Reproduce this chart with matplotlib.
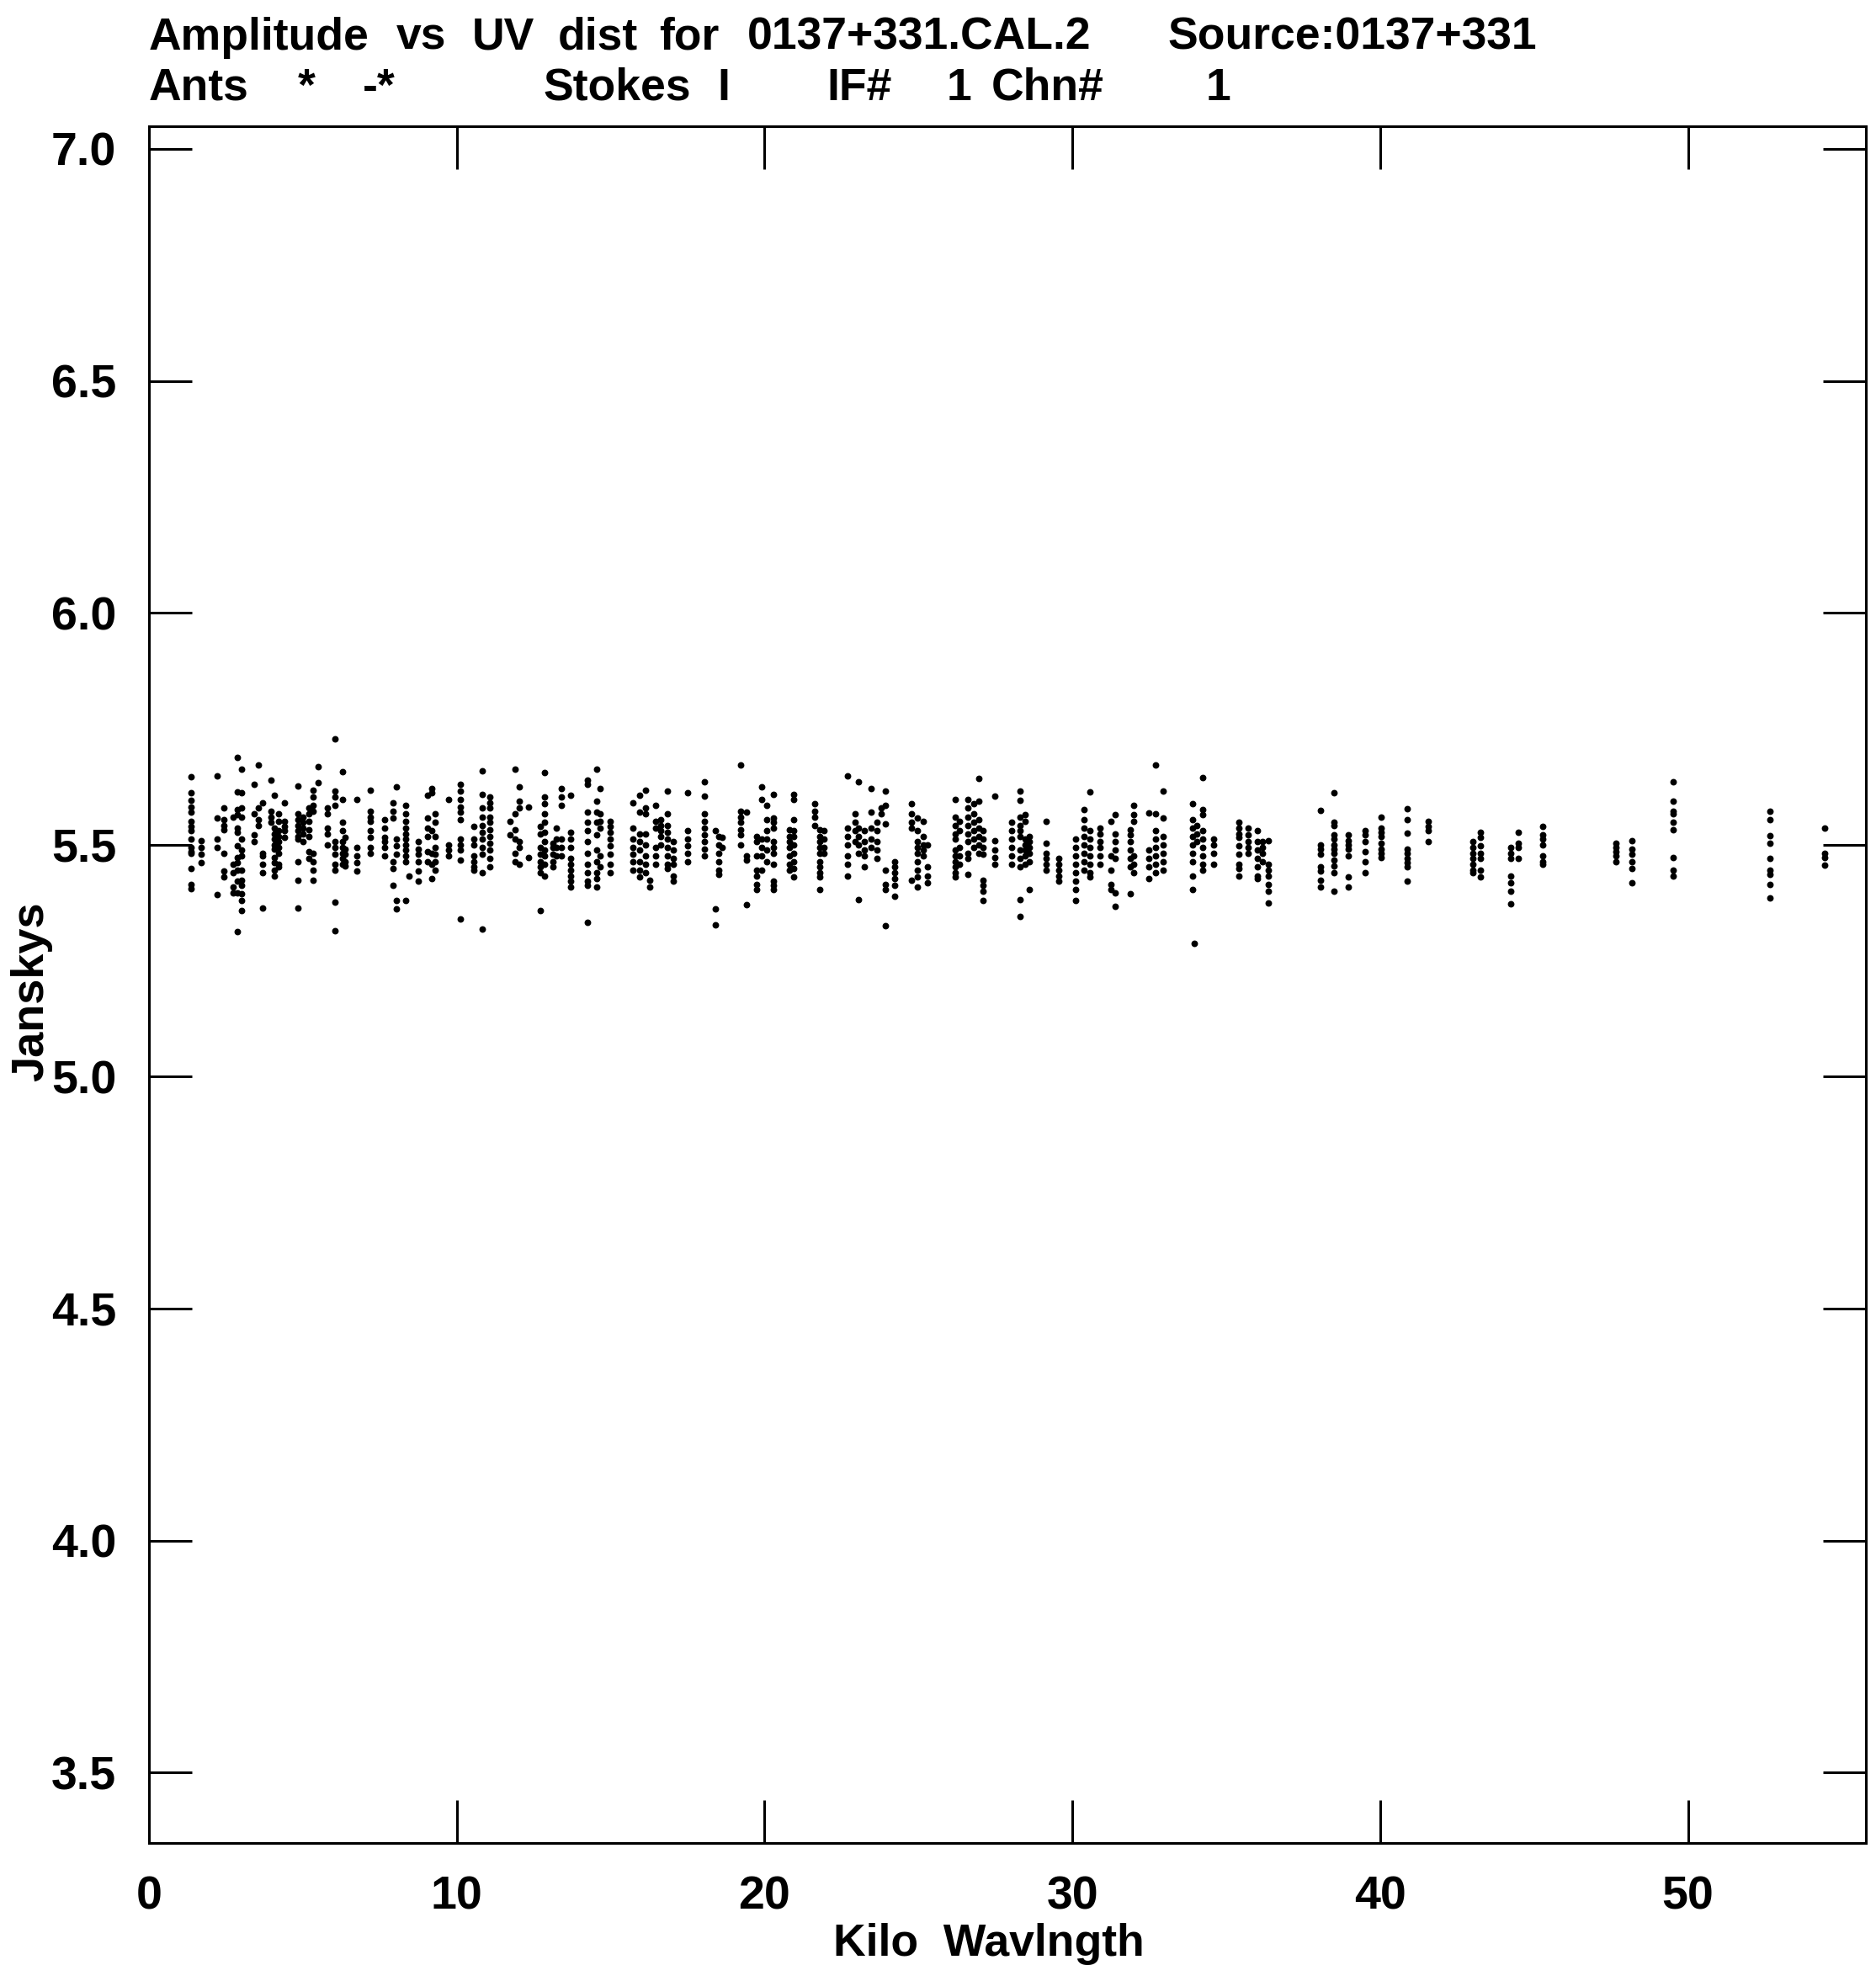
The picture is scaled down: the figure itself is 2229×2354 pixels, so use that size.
import numpy as np
import matplotlib
matplotlib.use("Agg")
import matplotlib.pyplot as plt

plt.rcParams['font.family'] = ['Liberation Sans', 'DejaVu Sans']
plt.rcParams['font.weight'] = 'bold'

# uv distance (kilo-wavelength) of each baseline track
uv_cols = [1.36, 1.70, 2.22, 2.43, 2.73, 2.86, 3.02, 3.41, 3.55, 3.68,
           3.96, 4.08, 4.20, 4.41, 4.84, 5.00, 5.19, 5.32, 5.51, 5.81,
           6.03, 6.28, 6.36, 6.75, 7.20, 7.67, 7.94, 8.03, 8.33, 8.45,
           8.74, 9.04, 9.18, 9.29, 9.74, 10.13, 10.56, 10.82, 11.07, 11.73,
           11.89, 12.02, 12.34, 12.71, 12.86, 13.12, 13.23, 13.41, 13.71, 14.26,
           14.56, 14.66, 14.98, 15.71, 15.94, 16.12, 16.26, 16.46, 16.62, 16.85,
           17.03, 17.49, 18.04, 18.40, 18.51, 18.63, 19.22, 19.41, 19.75, 19.91,
           20.06, 20.30, 20.80, 20.95, 21.64, 21.78, 21.94, 22.69, 22.94, 23.05,
           23.24, 23.46, 23.65, 23.80, 23.92, 24.24, 24.77, 24.97, 25.15, 25.29,
           26.20, 26.34, 26.61, 26.79, 26.97, 27.11, 27.47, 28.02, 28.29, 28.47,
           28.61, 29.15, 29.56, 30.11, 30.39, 30.57, 30.89, 31.25, 31.39, 31.89,
           31.98, 32.48, 32.71, 32.94, 33.90, 33.96, 34.03, 34.24, 34.60, 35.40,
           35.72, 36.00, 36.18, 36.36, 38.05, 38.50, 38.96, 39.50, 40.02, 40.87,
           41.56, 43.02, 43.25, 44.25, 44.49, 45.28, 47.67, 48.19, 49.53, 52.67,
           54.45]

# amplitudes (Jy) along each track
amp_cols = [
    [5.646, 5.612, 5.596, 5.581, 5.570, 5.551, 5.539, 5.530, 5.512, 5.494, 5.485, 5.482, 5.449, 5.415, 5.406],
    [5.509, 5.494, 5.479, 5.461],
    [5.648, 5.557, 5.512, 5.494, 5.392],
    [5.579, 5.554, 5.542, 5.533, 5.482, 5.443, 5.430],
    [5.560, 5.458, 5.440, 5.409, 5.397],
    [5.688, 5.614, 5.576, 5.564, 5.536, 5.527, 5.497, 5.473, 5.461, 5.446, 5.421, 5.397, 5.312],
    [5.663, 5.612, 5.579, 5.560, 5.512, 5.488, 5.476, 5.446, 5.424, 5.412, 5.394, 5.379, 5.358],
    [5.630, 5.567, 5.521, 5.506],
    [5.671, 5.579, 5.554, 5.542],
    [5.591, 5.482, 5.476, 5.458, 5.440, 5.364],
    [5.640, 5.573, 5.560, 5.548],
    [5.606, 5.536, 5.524, 5.512, 5.500, 5.491, 5.473, 5.461, 5.446, 5.433],
    [5.567, 5.551, 5.530, 5.518, 5.506, 5.494, 5.482, 5.458, 5.452],
    [5.591, 5.551, 5.539, 5.530, 5.515],
    [5.626, 5.567, 5.554, 5.542, 5.530, 5.518, 5.512, 5.464, 5.424, 5.364],
    [5.560, 5.548, 5.536, 5.524, 5.506],
    [5.579, 5.567, 5.551, 5.533, 5.518, 5.485, 5.470],
    [5.618, 5.603, 5.585, 5.573, 5.482, 5.464, 5.446, 5.424],
    [5.669, 5.633],
    [5.579, 5.567, 5.536, 5.524, 5.500],
    [5.729, 5.615, 5.603, 5.585, 5.506, 5.494, 5.479, 5.458, 5.446, 5.376, 5.315],
    [5.657, 5.597, 5.548, 5.530, 5.506, 5.494, 5.482, 5.470, 5.458],
    [5.515, 5.491, 5.479, 5.464, 5.455],
    [5.598, 5.494, 5.476, 5.461, 5.443],
    [5.618, 5.573, 5.560, 5.551, 5.530, 5.515, 5.494, 5.482],
    [5.554, 5.536, 5.515, 5.506, 5.494, 5.476],
    [5.591, 5.573, 5.557, 5.464, 5.449, 5.412],
    [5.624, 5.512, 5.497, 5.479, 5.379, 5.361],
    [5.585, 5.567, 5.551, 5.536, 5.524, 5.512, 5.500, 5.488, 5.476, 5.464, 5.379],
    [5.433],
    [5.506, 5.491, 5.479, 5.464, 5.443, 5.421],
    [5.606, 5.557, 5.536, 5.518, 5.485, 5.464],
    [5.621, 5.612, 5.530, 5.482, 5.458, 5.427],
    [5.567, 5.548, 5.518, 5.494, 5.479, 5.464, 5.446],
    [5.597, 5.500, 5.488, 5.476],
    [5.630, 5.615, 5.597, 5.582, 5.570, 5.554, 5.512, 5.500, 5.488, 5.467, 5.340],
    [5.539, 5.512, 5.500, 5.476, 5.464, 5.452, 5.446],
    [5.660, 5.609, 5.579, 5.560, 5.542, 5.527, 5.512, 5.494, 5.479, 5.440, 5.319],
    [5.603, 5.591, 5.579, 5.560, 5.548, 5.533, 5.518, 5.503, 5.488, 5.470, 5.452],
    [5.551, 5.521],
    [5.663, 5.567, 5.533, 5.512, 5.482, 5.464],
    [5.624, 5.594, 5.579, 5.506, 5.494, 5.458],
    [5.582, 5.473],
    [5.539, 5.524, 5.494, 5.479, 5.464, 5.452, 5.440, 5.358],
    [5.656, 5.603, 5.588, 5.567, 5.548, 5.527, 5.506, 5.488, 5.476, 5.458, 5.433],
    [5.503, 5.494, 5.479, 5.464, 5.452],
    [5.536, 5.512, 5.494, 5.476],
    [5.622, 5.603, 5.585, 5.512, 5.494, 5.476],
    [5.606, 5.527, 5.512, 5.494, 5.470, 5.458, 5.446, 5.433, 5.421, 5.409],
    [5.639, 5.630, 5.570, 5.548, 5.530, 5.506, 5.482, 5.458, 5.440, 5.421, 5.412, 5.332],
    [5.662, 5.594, 5.570, 5.548, 5.521, 5.488, 5.464, 5.440, 5.427, 5.409],
    [5.622, 5.567, 5.551, 5.536, 5.476, 5.452],
    [5.551, 5.539, 5.527, 5.512, 5.497, 5.479, 5.458, 5.440],
    [5.591, 5.536, 5.512, 5.494, 5.479, 5.464, 5.446],
    [5.606, 5.570, 5.524, 5.506, 5.488, 5.464, 5.446, 5.430],
    [5.618, 5.579, 5.567, 5.524, 5.500, 5.476, 5.458, 5.440],
    [5.424, 5.409],
    [5.585, 5.551, 5.536, 5.494, 5.476, 5.458],
    [5.554, 5.542, 5.530, 5.518, 5.500],
    [5.615, 5.567, 5.542, 5.527, 5.512, 5.494, 5.476, 5.458, 5.449],
    [5.506, 5.488, 5.470, 5.458, 5.433, 5.421],
    [5.612, 5.530, 5.512, 5.497, 5.482, 5.464],
    [5.636, 5.604, 5.567, 5.551, 5.536, 5.521, 5.506, 5.491, 5.476],
    [5.530, 5.361, 5.328],
    [5.518, 5.500, 5.482, 5.464, 5.446, 5.436],
    [5.515, 5.494],
    [5.672, 5.573, 5.560, 5.548, 5.533, 5.521, 5.500],
    [5.570, 5.476, 5.467, 5.370],
    [5.518, 5.506, 5.476, 5.446, 5.433, 5.415, 5.403],
    [5.624, 5.597, 5.512, 5.494, 5.476, 5.446],
    [5.585, 5.554, 5.530, 5.512, 5.488, 5.464],
    [5.609, 5.557, 5.548, 5.536, 5.506, 5.494, 5.482, 5.458, 5.421, 5.412, 5.403],
    [5.533, 5.518, 5.506, 5.494, 5.476, 5.458, 5.446],
    [5.609, 5.597, 5.554, 5.530, 5.518, 5.500, 5.482, 5.464, 5.449, 5.430],
    [5.588, 5.573, 5.560, 5.542],
    [5.533, 5.518, 5.506, 5.494, 5.482, 5.464, 5.452, 5.440, 5.430, 5.403],
    [5.530, 5.512, 5.494, 5.482],
    [5.648, 5.536, 5.518, 5.500, 5.476, 5.458, 5.433],
    [5.567, 5.548, 5.530, 5.506],
    [5.636, 5.536, 5.518, 5.500, 5.482, 5.382],
    [5.530, 5.506, 5.488, 5.476, 5.452],
    [5.622, 5.570, 5.536, 5.512, 5.494],
    [5.548, 5.530, 5.506, 5.488, 5.470],
    [5.579, 5.567],
    [5.615, 5.585, 5.545, 5.446, 5.415, 5.403, 5.326],
    [5.464, 5.452, 5.440, 5.427, 5.412, 5.388],
    [5.588, 5.567, 5.548, 5.536, 5.424],
    [5.557, 5.530, 5.506, 5.494, 5.482, 5.464, 5.446, 5.430, 5.409],
    [5.551, 5.518, 5.500, 5.488, 5.476],
    [5.500, 5.452, 5.433, 5.418],
    [5.598, 5.560, 5.542, 5.524, 5.512, 5.488, 5.476, 5.464, 5.452, 5.440, 5.430],
    [5.551, 5.530, 5.494, 5.476, 5.458],
    [5.597, 5.579, 5.560, 5.542, 5.524, 5.506, 5.482, 5.470, 5.436],
    [5.588, 5.567, 5.548, 5.530, 5.512, 5.494],
    [5.642, 5.594, 5.554, 5.536, 5.518, 5.500, 5.482],
    [5.530, 5.512, 5.494, 5.479, 5.424, 5.412, 5.400, 5.379],
    [5.604, 5.509, 5.488, 5.473, 5.458],
    [5.548, 5.530, 5.512, 5.494, 5.476, 5.458],
    [5.615, 5.596, 5.560, 5.542, 5.530, 5.518, 5.488, 5.470, 5.452, 5.382, 5.346],
    [5.564, 5.551, 5.512, 5.500, 5.488, 5.476, 5.458],
    [5.518, 5.506, 5.494, 5.482, 5.464, 5.403],
    [5.550, 5.503, 5.482, 5.470, 5.458, 5.446],
    [5.470, 5.458, 5.446, 5.433, 5.421],
    [5.512, 5.494, 5.476, 5.458, 5.440, 5.421, 5.403, 5.379],
    [5.576, 5.554, 5.536, 5.518, 5.500, 5.482, 5.464, 5.446],
    [5.613, 5.530, 5.512, 5.494, 5.476, 5.458, 5.440, 5.430],
    [5.536, 5.524, 5.506, 5.494, 5.476, 5.458],
    [5.551, 5.476, 5.446, 5.415, 5.403],
    [5.564, 5.524, 5.506, 5.488, 5.470, 5.397, 5.368],
    [5.533, 5.521, 5.506, 5.488, 5.470, 5.452, 5.394],
    [5.585, 5.564, 5.551, 5.476, 5.458, 5.440],
    [5.568, 5.488, 5.470, 5.452, 5.427],
    [5.671, 5.567, 5.530, 5.512, 5.494, 5.476, 5.458, 5.440],
    [5.615, 5.557, 5.518, 5.500, 5.482, 5.464, 5.446],
    [5.588, 5.554, 5.536, 5.518, 5.500, 5.482, 5.464, 5.433, 5.404],
    [5.288],
    [5.542, 5.524, 5.506],
    [5.644, 5.576, 5.564, 5.530, 5.512, 5.494, 5.476, 5.458, 5.446],
    [5.512, 5.500, 5.482, 5.458],
    [5.548, 5.536, 5.524, 5.515, 5.497, 5.479, 5.458, 5.449, 5.433],
    [5.536, 5.521, 5.506, 5.494, 5.482],
    [5.530, 5.506, 5.488, 5.470, 5.452, 5.433, 5.427],
    [5.506, 5.494, 5.482, 5.464],
    [5.509, 5.458, 5.446, 5.433, 5.415, 5.400, 5.374],
    [5.574, 5.500, 5.491, 5.479, 5.452, 5.443, 5.424, 5.409],
    [5.612, 5.548, 5.542, 5.521, 5.512, 5.500, 5.491, 5.482, 5.467, 5.455, 5.440, 5.400],
    [5.521, 5.509, 5.500, 5.491, 5.476, 5.430, 5.409],
    [5.530, 5.521, 5.506, 5.485, 5.464, 5.440],
    [5.559, 5.536, 5.527, 5.518, 5.503, 5.491, 5.482, 5.473],
    [5.577, 5.554, 5.525, 5.491, 5.482, 5.470, 5.461, 5.452, 5.421],
    [5.551, 5.539, 5.530, 5.506],
    [5.506, 5.494, 5.482, 5.470, 5.458, 5.446, 5.440],
    [5.527, 5.515, 5.497, 5.482, 5.470, 5.446, 5.430],
    [5.494, 5.482, 5.470, 5.433, 5.418, 5.400, 5.373],
    [5.527, 5.503, 5.494, 5.470],
    [5.539, 5.521, 5.512, 5.500, 5.476, 5.464, 5.458],
    [5.503, 5.494, 5.485, 5.476, 5.464],
    [5.509, 5.491, 5.479, 5.464, 5.449, 5.418],
    [5.636, 5.594, 5.573, 5.567, 5.548, 5.533, 5.473, 5.446, 5.433],
    [5.573, 5.554, 5.519, 5.503, 5.470, 5.446, 5.436, 5.415, 5.385],
    [5.536, 5.482, 5.473, 5.456],
]

uv = np.repeat(uv_cols, [len(a) for a in amp_cols])
amp = np.concatenate(amp_cols)

fig = plt.figure(figsize=(22.29, 23.54), dpi=100)
ax = fig.add_axes([0.0794, 0.0697, 0.9152, 0.8666])

ax.scatter(uv, amp, s=32, c='black', linewidths=0)

ax.set_xlim(0, 55.78)
ax.set_ylim(3.348, 7.049)
ax.set_xticks(np.arange(0, 51, 10))
ax.set_yticks(np.arange(3.5, 7.01, 0.5))
ax.set_yticklabels([f"{v:.1f}" for v in np.arange(3.5, 7.01, 0.5)])
ax.tick_params(direction='in', length=37, width=2.2, top=True, right=True,
               labelsize=40, pad=28)
for lab in ax.get_xticklabels() + ax.get_yticklabels():
    lab.set_fontweight('bold')
for sp in ax.spines.values():
    sp.set_linewidth(2.2)

# header lines, word by word like the AIPS plot
line1 = [("Amplitude", 118), ("vs", 314), ("UV", 374), ("dist", 442), ("for", 522),
         ("0137+331.CAL.2", 592), ("Source:0137+331", 925)]
line2 = [("Ants", 118), ("*", 236), ("-*", 287), ("Stokes", 430), ("I", 568),
         ("IF#", 655), ("1", 750), ("Chn#", 785), ("1", 955)]
for word, xs in line1:
    fig.text(xs / 1486, 1 - 39 / 1569, word, fontsize=38.5, fontweight='bold', va='baseline')
for word, xs in line2:
    fig.text(xs / 1486, 1 - 79 / 1569, word, fontsize=38.5, fontweight='bold', va='baseline')

fig.text(783 / 1486, 1 - 1549 / 1569, "Kilo  Wavlngth", fontsize=38.5, fontweight='bold',
         ha='center', va='baseline')
fig.text(25 / 1486, 1 - 785 / 1569, "Janskys", fontsize=39, fontweight='bold',
         rotation=90, ha='center', va='center')

fig.savefig("out.png", dpi=100, facecolor='white')
